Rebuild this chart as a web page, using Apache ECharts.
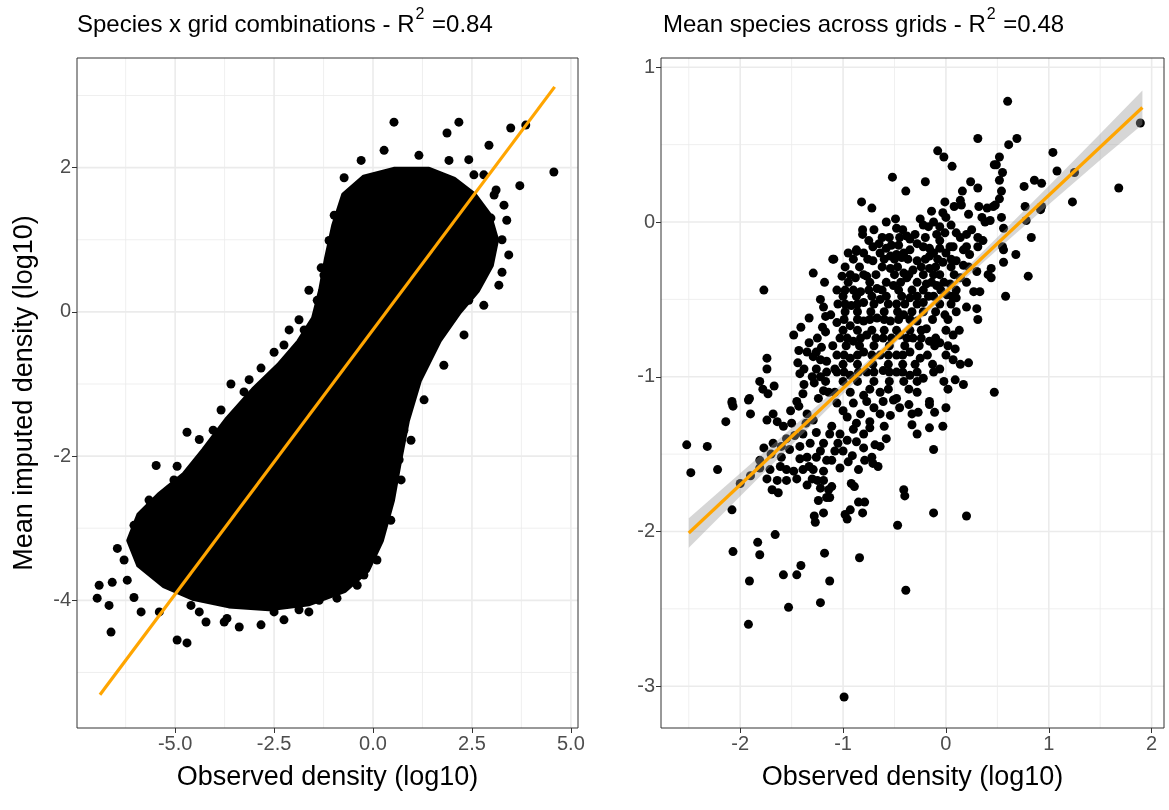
<!DOCTYPE html>
<html>
<head>
<meta charset="utf-8">
<script src="https://cdn.jsdelivr.net/npm/echarts@6/dist/echarts.min.js"></script>
<style>
html,body{margin:0;padding:0;background:#fff;}
#chart{width:1169px;height:810px;}
</style>
</head>
<body>
<div id="chart"></div>
<script>
// ---------- Titles ----------
const leftTitle = ['Species x grid combinations - R', '2', ' =0.84'];
const rightTitle = ['Mean species across grids - R', '2', ' =0.48'];
const xAxisTitle = 'Observed density (log10)';
const yAxisTitle = 'Mean imputed density (log10)';

// ---------- Left panel: axes ----------
const leftXRange = [-7.48, 5.18];
const leftYRange = [-5.77, 3.52];
const leftXTicks = [-5, -2.5, 0, 2.5, 5];
const leftXTickLabels = ['-5.0', '-2.5', '0.0', '2.5', '5.0'];
const leftXMinor = [-6.25, -3.75, -1.25, 1.25, 3.75];
const leftYTicks = [-4, -2, 0, 2];
const leftYTickLabels = ['-4', '-2', '0', '2'];
const leftYMinor = [-5, -3, -1, 1, 3];

// Dense core of the species x grid cloud (outline of the solid black mass)
const leftDenseOutline = [
  [-0.73, 1.62], [-0.23, 1.86], [0.53, 1.97], [1.41, 1.97], [2.05, 1.83], [2.55, 1.62],
  [2.93, 1.34], [3.11, 1.00], [2.98, 0.65], [2.63, 0.30], [2.17, 0.00], [1.67, -0.39],
  [1.16, -0.95], [0.86, -1.50], [0.66, -2.06], [0.48, -2.61], [0.20, -3.17], [-0.15, -3.58],
  [-0.73, -3.86], [-1.62, -4.04], [-2.63, -4.11], [-3.64, -4.07], [-4.52, -3.97], [-5.28, -3.79],
  [-5.91, -3.51], [-6.16, -3.17], [-5.91, -2.82], [-5.40, -2.54], [-4.77, -2.26], [-4.27, -1.92],
  [-3.69, -1.50], [-3.01, -1.08], [-2.37, -0.74], [-1.87, -0.42], [-1.49, -0.09], [-1.31, 0.30],
  [-1.16, 0.75], [-0.98, 1.20]
];
// Scattered points around the edge of the cloud
const leftFringe = [
  [0.53, 2.63], [2.17, 2.63], [1.87, 2.48], [2.93, 2.31], [3.48, 2.55], [3.86, 2.59], [4.57, 1.94],
  [3.71, 1.75], [3.11, 1.69], [2.80, 1.90], [2.42, 2.11], [3.31, 1.48], [2.98, 1.30], [3.26, 1.00],
  [3.26, 0.55], [2.73, 0.69], [-0.61, 1.61], [-0.98, 1.34], [-1.31, 0.61], [-1.62, 0.30], [-1.87, -0.11],
  [2.42, 0.16], [1.67, -0.11], [1.16, -0.53], [0.91, -1.01], [0.78, -1.64], [0.66, -2.05], [0.40, -2.61],
  [-0.10, -3.44], [-0.23, -3.65], [-0.73, -3.75], [-1.36, -4.00], [-1.87, -4.13], [-2.25, -4.27],
  [-2.83, -4.34], [-3.38, -4.37], [-3.76, -4.30], [-4.22, -4.30], [-4.70, -4.59], [-4.95, -4.55],
  [-4.60, -4.07], [-5.40, -4.16], [-5.86, -4.16], [-6.04, -3.96], [-6.59, -3.75], [-6.92, -3.79],
  [-6.97, -3.97], [-6.62, -4.44], [-6.67, -4.07], [-6.29, -3.44], [-5.91, -3.23], [-5.66, -3.51],
  [-5.40, -2.82], [-5.48, -2.13], [-4.95, -2.14], [-4.70, -1.67], [-4.04, -1.64], [-3.59, -1.00],
  [-3.13, -0.94], [-2.50, -0.56], [-2.12, -0.25],
  [-1.11, 0.99], [-1.24, 0.51], [-1.41, 0.16], [-1.74, -0.25], [-2.25, -0.46], [-2.83, -0.78],
  [-3.26, -1.11], [-3.84, -1.36], [-4.39, -1.77], [-5.03, -2.33], [-5.66, -2.61], [-6.04, -2.96],
  [-6.46, -3.28], [-6.21, -3.72], [-4.39, -4.16], [-3.69, -4.25], [-2.50, -4.16], [-1.62, -4.16],
  [-0.91, -3.97], [-0.40, -3.79], [0.10, -3.44], [0.45, -2.89], [0.71, -2.33], [0.96, -1.78],
  [1.29, -1.22], [1.79, -0.74], [2.30, -0.32], [2.80, 0.09], [3.18, 0.37], [3.43, 0.79],
  [3.38, 1.27], [3.06, 1.62], [2.55, 1.90], [1.92, 2.10], [1.16, 2.17], [0.28, 2.24],
  [-0.30, 2.10], [-0.73, 1.86]
];
const leftFit = [[-6.90, -5.31], [4.59, 3.12]];

// ---------- Right panel: axes ----------
const rightXRange = [-2.77, 2.12];
const rightYRange = [-3.27, 1.06];
const rightXTicks = [-2, -1, 0, 1, 2];
const rightXTickLabels = ['-2', '-1', '0', '1', '2'];
const rightXMinor = [-2.5, -1.5, -0.5, 0.5, 1.5];
const rightYTicks = [-3, -2, -1, 0, 1];
const rightYTickLabels = ['-3', '-2', '-1', '0', '1'];
const rightYMinor = [-2.5, -1.5, -0.5, 0.5];

const rightPoints = [
  [0.31,0.54],[-0.08,0.46],[-0.02,0.42],[0.06,0.36],[0.47,0.37],[-0.52,0.29],[-0.20,0.26],[-0.39,0.20],
  [0.24,0.26],[0.31,0.22],[0.16,0.20],[-0.82,0.13],[-0.72,0.09],[-0.01,0.13],[0.14,0.14],[0.15,0.11],
  [0.08,0.10],[-0.14,0.07],[-0.03,0.06],[0.32,0.10],[0.40,0.09],[0.35,0.03],[0.38,0.00],[-0.49,0.02],
  [-0.58,0.00],[-0.48,-0.04],[-0.22,-0.02],[-0.17,-0.03],[-0.06,-0.03],[-0.01,-0.07],[-0.09,-0.08],
  [-0.06,-0.12],[-0.81,-0.05],[-0.81,-0.08],[-0.38,-0.09],[-0.35,-0.11],[0.20,-0.08],[0.31,-0.10],
  [0.36,-0.12],[-0.65,-0.14],[-0.53,-0.15],[-0.46,-0.15],[-0.28,-0.14],[-0.87,-0.18],[-0.16,-0.17],
  [0.04,-0.16],[0.20,-0.16],[0.31,-0.16],
  [0.60,0.78],[0.69,0.54],[0.61,0.50],[1.04,0.45],[0.52,0.42],[0.49,0.37],[0.55,0.32],[0.52,0.27],
  [1.08,0.33],[1.25,0.32],[0.86,0.27],[0.93,0.25],[0.76,0.23],[0.54,0.20],[0.52,0.15],[0.48,0.11],
  [0.46,0.10],[1.68,0.22],[1.23,0.13],[0.77,0.10],[0.93,0.10],[0.92,0.08],[1.89,0.64],[0.54,0.03],
  [0.43,0.01],[0.78,0.01],[0.56,-0.04],[0.83,-0.10],[0.55,-0.16],
  [-1.10,-0.24],[-1.29,-0.33],[-1.18,-0.39],[-1.77,-0.44],[-1.22,-0.50],[-1.19,-0.55],[-1.33,-0.62],
  [-1.41,-0.68],[-1.48,-0.73],[-1.17,-0.61],[-1.17,-0.71],[-1.43,-0.83],[-1.35,-0.84],[-1.26,-0.84],
  [-1.21,-0.81],[-1.29,-0.87],[-1.22,-0.89],[-1.16,-0.90],[-1.26,-0.95],[-1.16,-0.97],[-1.74,-0.88],
  [-1.74,-0.95],[-1.44,-0.91],[-1.42,-0.98],[-1.81,-1.03],[-1.78,-1.08],[-1.73,-1.11],[-1.67,-1.06],
  [-1.28,-1.04],[-1.17,-1.03],[-1.19,-1.09],[-1.14,-1.10],[-1.39,-1.11],[-1.45,-1.16],[-2.08,-1.16],
  [-1.91,-1.14],[-1.24,-1.14],
  [-0.87,-0.19],[-0.71,-0.16],[-0.58,-0.17],[-0.48,-0.21],[-0.35,-0.18],[-0.22,-0.16],[-0.06,-0.17],
  [0.07,-0.16],[0.17,-0.18],[0.23,-0.21],[-1.09,-0.24],[-0.71,-0.25],[-0.54,-0.22],[-0.43,-0.23],
  [-0.28,-0.25],[-0.16,-0.22],[-0.03,-0.26],[0.10,-0.25],[0.17,-0.28],[0.30,-0.32],[0.41,-0.34],
  [-1.01,-0.35],[-0.88,-0.36],[-0.77,-0.35],[-0.54,-0.30],[-0.41,-0.33],[-0.32,-0.31],[-0.16,-0.30],
  [-0.06,-0.34],[-1.06,-0.44],[-0.83,-0.45],[-0.67,-0.43],[-0.51,-0.41],[-0.38,-0.36],[-0.28,-0.39],
  [-0.19,-0.40],[-0.09,-0.41],[0.04,-0.40],[0.14,-0.36],[0.27,-0.45],[0.33,-0.45],[-1.05,-0.53],
  [-0.92,-0.54],[-0.80,-0.52],[-0.64,-0.50],[-0.48,-0.53],[-0.35,-0.49],[-0.22,-0.52],[-0.12,-0.48],
  [0.01,-0.47],[0.10,-0.49],[0.20,-0.55],[0.30,-0.56],[0.31,-0.63],[0.10,-0.58],[-0.01,-0.60],
  [-1.06,-0.65],[-0.93,-0.67],[-0.80,-0.64],[-0.67,-0.62],[-0.54,-0.64],[-0.41,-0.60],[-0.28,-0.64],
  [-0.19,-0.69],[0.07,-0.73],[-1.03,-0.75],[-0.90,-0.77],[-0.77,-0.73],[-0.61,-0.75],[-0.45,-0.73],
  [-0.32,-0.75],[-0.16,-0.77],[-0.06,-0.78],[0.09,-0.82],[-1.06,-0.86],[-0.93,-0.88],[-0.80,-0.84],
  [-0.64,-0.86],[-0.48,-0.86],[-0.35,-0.84],[-0.25,-0.88],[-0.06,-0.95],[0.07,-0.89],[0.22,-0.91],
  [-1.06,-0.97],[-0.93,-0.99],[-0.77,-0.97],[-0.61,-0.96],[-0.48,-0.97],[-0.35,-0.99],[-0.22,-1.01],
  [0.09,-1.02],[0.17,-1.05],[-1.08,-1.10],[-0.93,-1.10],[-0.80,-1.12],[-0.64,-1.10],[-0.48,-1.14],
  [-0.28,-1.10],[-0.16,-1.16],[0.47,-1.10],
  [0.56,-0.18],[0.68,-0.21],[0.56,-0.26],[0.44,-0.30],[0.44,-0.36],[0.80,-0.35],[0.58,-0.48],
  [-2.08,-1.17],[-1.92,-1.15],[-2.07,-1.19],[-1.90,-1.24],[-2.14,-1.29],[-1.74,-1.28],[-1.68,-1.24],
  [-1.64,-1.29],[-1.58,-1.32],[-1.51,-1.22],[-1.43,-1.19],[-1.35,-1.24],[-1.29,-1.28],[-2.52,-1.44],
  [-2.32,-1.45],[-1.77,-1.46],[-1.68,-1.43],[-1.52,-1.47],[-1.39,-1.37],[-1.32,-1.43],[-1.26,-1.36],
  [-1.19,-1.43],[-1.13,-1.37],[-1.35,-1.52],[-1.26,-1.52],[-1.16,-1.54],[-2.48,-1.62],[-2.22,-1.60],
  [-1.81,-1.54],[-1.81,-1.59],[-1.90,-1.64],[-2.00,-1.69],[-1.71,-1.60],[-1.61,-1.58],[-1.74,-1.66],
  [-1.64,-1.67],[-1.55,-1.67],[-1.48,-1.61],[-1.39,-1.60],[-1.45,-1.66],[-1.29,-1.60],[-1.19,-1.61],
  [-1.30,-1.66],[-1.19,-1.67],[-1.69,-1.73],[-1.63,-1.75],[-1.22,-1.72],[-1.14,-1.73],[-1.24,-1.80],
  [-1.16,-1.78],[-2.08,-1.86],[-1.28,-1.90],[-1.19,-1.88],[-1.27,-1.94],[-1.66,-2.02],[-1.83,-2.07],
  [-1.81,-2.15],[-2.07,-2.13],[-1.18,-2.14],
  [-1.06,-1.17],[-0.90,-1.17],[-0.77,-1.16],[-0.61,-1.16],[-0.51,-1.15],[-0.96,-1.26],[-0.83,-1.24],
  [-0.74,-1.29],[-0.64,-1.24],[-0.54,-1.25],[-1.11,-1.32],[-1.03,-1.37],[-0.90,-1.34],[-0.80,-1.37],
  [-0.74,-1.33],[-0.96,-1.41],[-0.87,-1.42],[-0.69,-1.44],[-0.64,-1.45],[-0.58,-1.40],[-1.08,-1.48],
  [-1.00,-1.48],[-0.91,-1.51],[-1.11,-1.54],[-1.03,-1.59],[-0.79,-1.54],[-0.72,-1.52],[-0.71,-1.56],
  [-0.66,-1.58],[-0.36,-1.18],[-0.27,-1.23],[-0.33,-1.24],[-0.16,-1.18],[-0.11,-1.23],[0.00,-1.20],
  [-0.33,-1.31],[-0.28,-1.37],[-0.16,-1.33],[-0.03,-1.32],[-0.12,-1.47],[-0.92,-1.69],[-0.89,-1.71],
  [-1.11,-1.71],[-1.13,-1.78],[-0.41,-1.73],[-0.40,-1.77],[-0.85,-1.81],[-0.79,-1.81],[-0.81,-1.88],
  [-0.93,-1.86],[-0.98,-1.89],[-0.96,-1.92],[-0.12,-1.88],[0.20,-1.90],[-0.47,-1.96],[-0.84,-2.17],
  [-1.41,-2.22],[-1.91,-2.32],[-1.58,-2.28],[-1.45,-2.28],[-1.13,-2.32],[-0.39,-2.38],[-1.53,-2.49],
  [-1.22,-2.46],[-1.92,-2.60],[-0.99,-3.07],
  [-0.95,-0.20],[-0.80,-0.20],[-0.64,-0.20],[-0.41,-0.20],[-0.12,-0.20],[0.00,-0.20],
  [-0.98,-0.29],[-0.84,-0.29],[-0.62,-0.29],[-0.47,-0.29],[-0.24,-0.29],[-0.10,-0.29],[0.05,-0.29],[0.22,-0.29],
  [-0.95,-0.39],[-0.74,-0.39],[-0.58,-0.39],[-0.44,-0.39],[-0.14,-0.39],[-0.02,-0.39],[0.20,-0.39],
  [-1.00,-0.48],[-0.87,-0.48],[-0.72,-0.48],[-0.58,-0.48],[-0.43,-0.48],[-0.28,-0.48],[-0.17,-0.48],[0.06,-0.48],
  [-0.98,-0.58],[-0.86,-0.58],[-0.73,-0.58],[-0.60,-0.58],[-0.47,-0.58],[-0.33,-0.58],[-0.22,-0.58],[-0.10,-0.58],
  [-1.00,-0.70],[-0.86,-0.70],[-0.72,-0.70],[-0.60,-0.70],[-0.48,-0.70],[-0.35,-0.70],[-0.24,-0.70],[0.00,-0.70],[0.13,-0.70],
  [-0.97,-0.80],[-0.84,-0.80],[-0.70,-0.80],[-0.55,-0.80],[-0.40,-0.80],[-0.26,-0.80],[-0.11,-0.80],[0.02,-0.80],
  [-1.00,-0.92],[-0.86,-0.92],[-0.71,-0.92],[-0.56,-0.92],[-0.42,-0.92],[-0.30,-0.92],[-0.13,-0.92],[0.14,-0.92],
  [-1.00,-1.03],[-0.86,-1.03],[-0.70,-1.03],[-0.55,-1.03],[-0.41,-1.03],[-0.28,-1.03],[-0.02,-1.03],
  [-0.74,-1.08],[-0.56,-1.08],[-0.36,-1.08],[0.02,-1.08],
  [-0.70,-0.05],[-0.62,-0.10],[-0.42,-0.05],[-0.30,-0.08],[-0.12,0.00],[0.05,-0.02],[0.10,-0.07],[0.25,-0.05],
  [-0.25,0.02],[0.00,0.03],[0.22,0.05],[-0.75,-0.12],
  [-1.00,-1.22],[-0.87,-1.30],[-0.70,-1.20],[-0.60,-1.32],[-1.05,-1.43],[-0.80,-1.46],[-0.95,-1.55],[-0.85,-1.60],[-0.45,-1.20],
  [-1.50,-1.30],[-1.42,-1.45],[-1.60,-1.52],[-1.55,-1.40],[-1.25,-1.67],[-1.35,-1.70],
  [-1.38,-0.95],[-1.30,-1.00],[-1.10,-0.80],[-1.12,-0.60],[-1.25,-0.75],[-1.08,-0.95],
  [-0.90,-0.24],[-0.76,-0.24],[-0.60,-0.24],[-0.50,-0.24],[-0.37,-0.24],[-0.20,-0.24],[-0.08,-0.24],[0.05,-0.24],
  [-0.93,-0.34],[-0.80,-0.34],[-0.68,-0.34],[-0.50,-0.34],[-0.36,-0.34],[-0.22,-0.34],[-0.12,-0.34],[0.08,-0.34],
  [-0.98,-0.44],[-0.90,-0.44],[-0.75,-0.44],[-0.62,-0.44],[-0.46,-0.44],[-0.33,-0.44],[-0.22,-0.44],[-0.05,-0.44],[0.10,-0.44],
  [-0.98,-0.53],[-0.86,-0.53],[-0.70,-0.53],[-0.56,-0.53],[-0.40,-0.53],[-0.28,-0.53],[-0.06,-0.53],[0.05,-0.53],
  [-0.99,-0.63],[-0.86,-0.63],[-0.74,-0.63],[-0.60,-0.63],[-0.46,-0.63],[-0.35,-0.63],[-0.13,-0.63],[0.02,-0.63],
  [-0.96,-0.75],[-0.83,-0.75],[-0.68,-0.75],[-0.53,-0.75],[-0.38,-0.75],[-0.24,-0.75],[-0.10,-0.75],
  [-0.99,-0.86],[-0.86,-0.86],[-0.72,-0.86],[-0.56,-0.86],[-0.42,-0.86],[-0.18,-0.86],[0.00,-0.86],
  [-0.99,-0.97],[-0.85,-0.97],[-0.70,-0.97],[-0.55,-0.97],[-0.42,-0.97],[-0.28,-0.97],[-0.12,-0.97],
  [-0.55,-0.10],[-0.45,-0.10],[-0.20,-0.10],[0.14,-0.10],
  [-1.47,-1.38],[-1.36,-1.30],[-1.60,-1.45],[-1.70,-1.50],[-1.22,-1.48],[-1.33,-1.58],[-1.55,-1.60],[-1.42,-1.53],
  [-1.33,-0.78],[-1.20,-0.68],[-1.38,-1.05],[-1.22,-1.00]
];
const rightFit = [[-2.50, -2.01], [1.91, 0.74]];
const rightBandX = [-2.5, -2, -1.5, -1, -0.5, 0, 0.5, 1, 1.5, 1.91];
const rightBandLow = [-2.105, -1.773, -1.441, -1.110, -0.785, -0.476, -0.179, 0.113, 0.400, 0.630];
const rightBandHigh = [-1.915, -1.623, -1.331, -1.040, -0.741, -0.426, -0.099, 0.233, 0.570, 0.850];

// ---------- Build chart ----------
const chart = echarts.init(document.getElementById('chart'), null, {renderer: 'canvas'});
const FONT = 'Liberation Sans, Arial, sans-serif';
const GRID_COL = '#EBEBEB';

function labelFrom(ticks, labels) {
  return function (v) {
    for (let i = 0; i < ticks.length; i++) if (Math.abs(ticks[i] - v) < 1e-9) return labels[i];
    return '';
  };
}
function axisCfg(grid, range, ticks, labels, name, gap) {
  return {
    gridIndex: grid, type: 'value', min: range[0], max: range[1],
    splitLine: {show: false}, axisLine: {show: false, onZero: false},
    axisTick: {show: true, customValues: ticks, length: 5, lineStyle: {color: '#333', width: 1}},
    axisLabel: {customValues: ticks, formatter: labelFrom(ticks, labels), color: '#4d4d4d',
      fontSize: 20, fontFamily: FONT, margin: 6},
    name: name, nameLocation: 'middle', nameGap: gap,
    nameTextStyle: {fontSize: 27, color: '#000', fontFamily: FONT}
  };
}
// Panel grid lines drawn through the axes' own scales
function gridLines(xi, yi, xr, yr, xMaj, xMin, yMaj, yMin) {
  return {
    type: 'custom', xAxisIndex: xi, yAxisIndex: yi, z: 0, silent: true, clip: true,
    data: [0],
    renderItem: function (params, api) {
      const children = [];
      function vline(v, w) {
        const a = api.coord([v, yr[0]]), b = api.coord([v, yr[1]]);
        children.push({type: 'line', shape: {x1: a[0], y1: a[1], x2: b[0], y2: b[1]},
          style: {stroke: GRID_COL, lineWidth: w}});
      }
      function hline(v, w) {
        const a = api.coord([xr[0], v]), b = api.coord([xr[1], v]);
        children.push({type: 'line', shape: {x1: a[0], y1: a[1], x2: b[0], y2: b[1]},
          style: {stroke: GRID_COL, lineWidth: w}});
      }
      xMin.forEach(v => vline(v, 0.8));
      yMin.forEach(v => hline(v, 0.8));
      xMaj.forEach(v => vline(v, 1.6));
      yMaj.forEach(v => hline(v, 1.6));
      return {type: 'group', children: children};
    }
  };
}
function richTitle(parts, left) {
  return {
    left: left, top: 2,
    text: '{a|' + parts[0] + '}{s|' + parts[1] + '}{a|' + parts[2] + '}',
    textStyle: {
      fontWeight: 'normal',
      rich: {
        a: {fontSize: 24, fontWeight: 'normal', color: '#000', fontFamily: FONT, lineHeight: 30, verticalAlign: 'bottom'},
        s: {fontSize: 16, fontWeight: 'normal', color: '#000', fontFamily: FONT, lineHeight: 30, verticalAlign: 'top', padding: [0, 1, 12, 1]}
      }
    }
  };
}

const option = {
  animation: false,
  backgroundColor: '#fff',
  title: [richTitle(leftTitle, 72), richTitle(rightTitle, 658)],
  grid: [
    {left: 77, top: 58, width: 501, height: 670, show: true, borderColor: '#333', borderWidth: 1, backgroundColor: 'transparent', z: 5},
    {left: 661, top: 58, width: 503, height: 670, show: true, borderColor: '#333', borderWidth: 1, backgroundColor: 'transparent', z: 5}
  ],
  xAxis: [
    axisCfg(0, leftXRange, leftXTicks, leftXTickLabels, xAxisTitle, 36),
    axisCfg(1, rightXRange, rightXTicks, rightXTickLabels, xAxisTitle, 36)
  ],
  yAxis: [
    axisCfg(0, leftYRange, leftYTicks, leftYTickLabels, yAxisTitle, 39),
    axisCfg(1, rightYRange, rightYTicks, rightYTickLabels, '', 39)
  ],
  series: [
    gridLines(0, 0, leftXRange, leftYRange, leftXTicks, leftXMinor, leftYTicks, leftYMinor),
    gridLines(1, 1, rightXRange, rightYRange, rightXTicks, rightXMinor, rightYTicks, rightYMinor),
    {
      type: 'custom', xAxisIndex: 0, yAxisIndex: 0, z: 2, silent: true, clip: true,
      data: [0],
      renderItem: function (params, api) {
        return {type: 'polygon', shape: {points: leftDenseOutline.map(p => api.coord(p))},
          style: {fill: '#000', stroke: '#000', lineWidth: 6, lineJoin: 'round'}};
      }
    },
    {
      type: 'scatter', xAxisIndex: 0, yAxisIndex: 0, z: 3, data: leftFringe,
      symbolSize: 9, itemStyle: {color: '#000', opacity: 1}, silent: true
    },
    {
      type: 'line', xAxisIndex: 0, yAxisIndex: 0, z: 4, data: leftFit, showSymbol: false,
      lineStyle: {color: '#FFA500', width: 3.2}, silent: true
    },
    {
      type: 'scatter', xAxisIndex: 1, yAxisIndex: 1, z: 3, data: rightPoints,
      symbolSize: 9, itemStyle: {color: '#000', opacity: 1}, silent: true
    },
    {
      type: 'custom', xAxisIndex: 1, yAxisIndex: 1, z: 4, silent: true, clip: true,
      data: [0],
      renderItem: function (params, api) {
        const pts = [];
        for (let i = 0; i < rightBandX.length; i++) pts.push(api.coord([rightBandX[i], rightBandHigh[i]]));
        for (let i = rightBandX.length - 1; i >= 0; i--) pts.push(api.coord([rightBandX[i], rightBandLow[i]]));
        return {type: 'polygon', shape: {points: pts}, style: {fill: 'rgba(153,153,153,0.4)'}};
      }
    },
    {
      type: 'line', xAxisIndex: 1, yAxisIndex: 1, z: 5, data: rightFit, showSymbol: false,
      lineStyle: {color: '#FFA500', width: 3.2}, silent: true
    }
  ]
};
chart.setOption(option);
</script>
</body>
</html>
